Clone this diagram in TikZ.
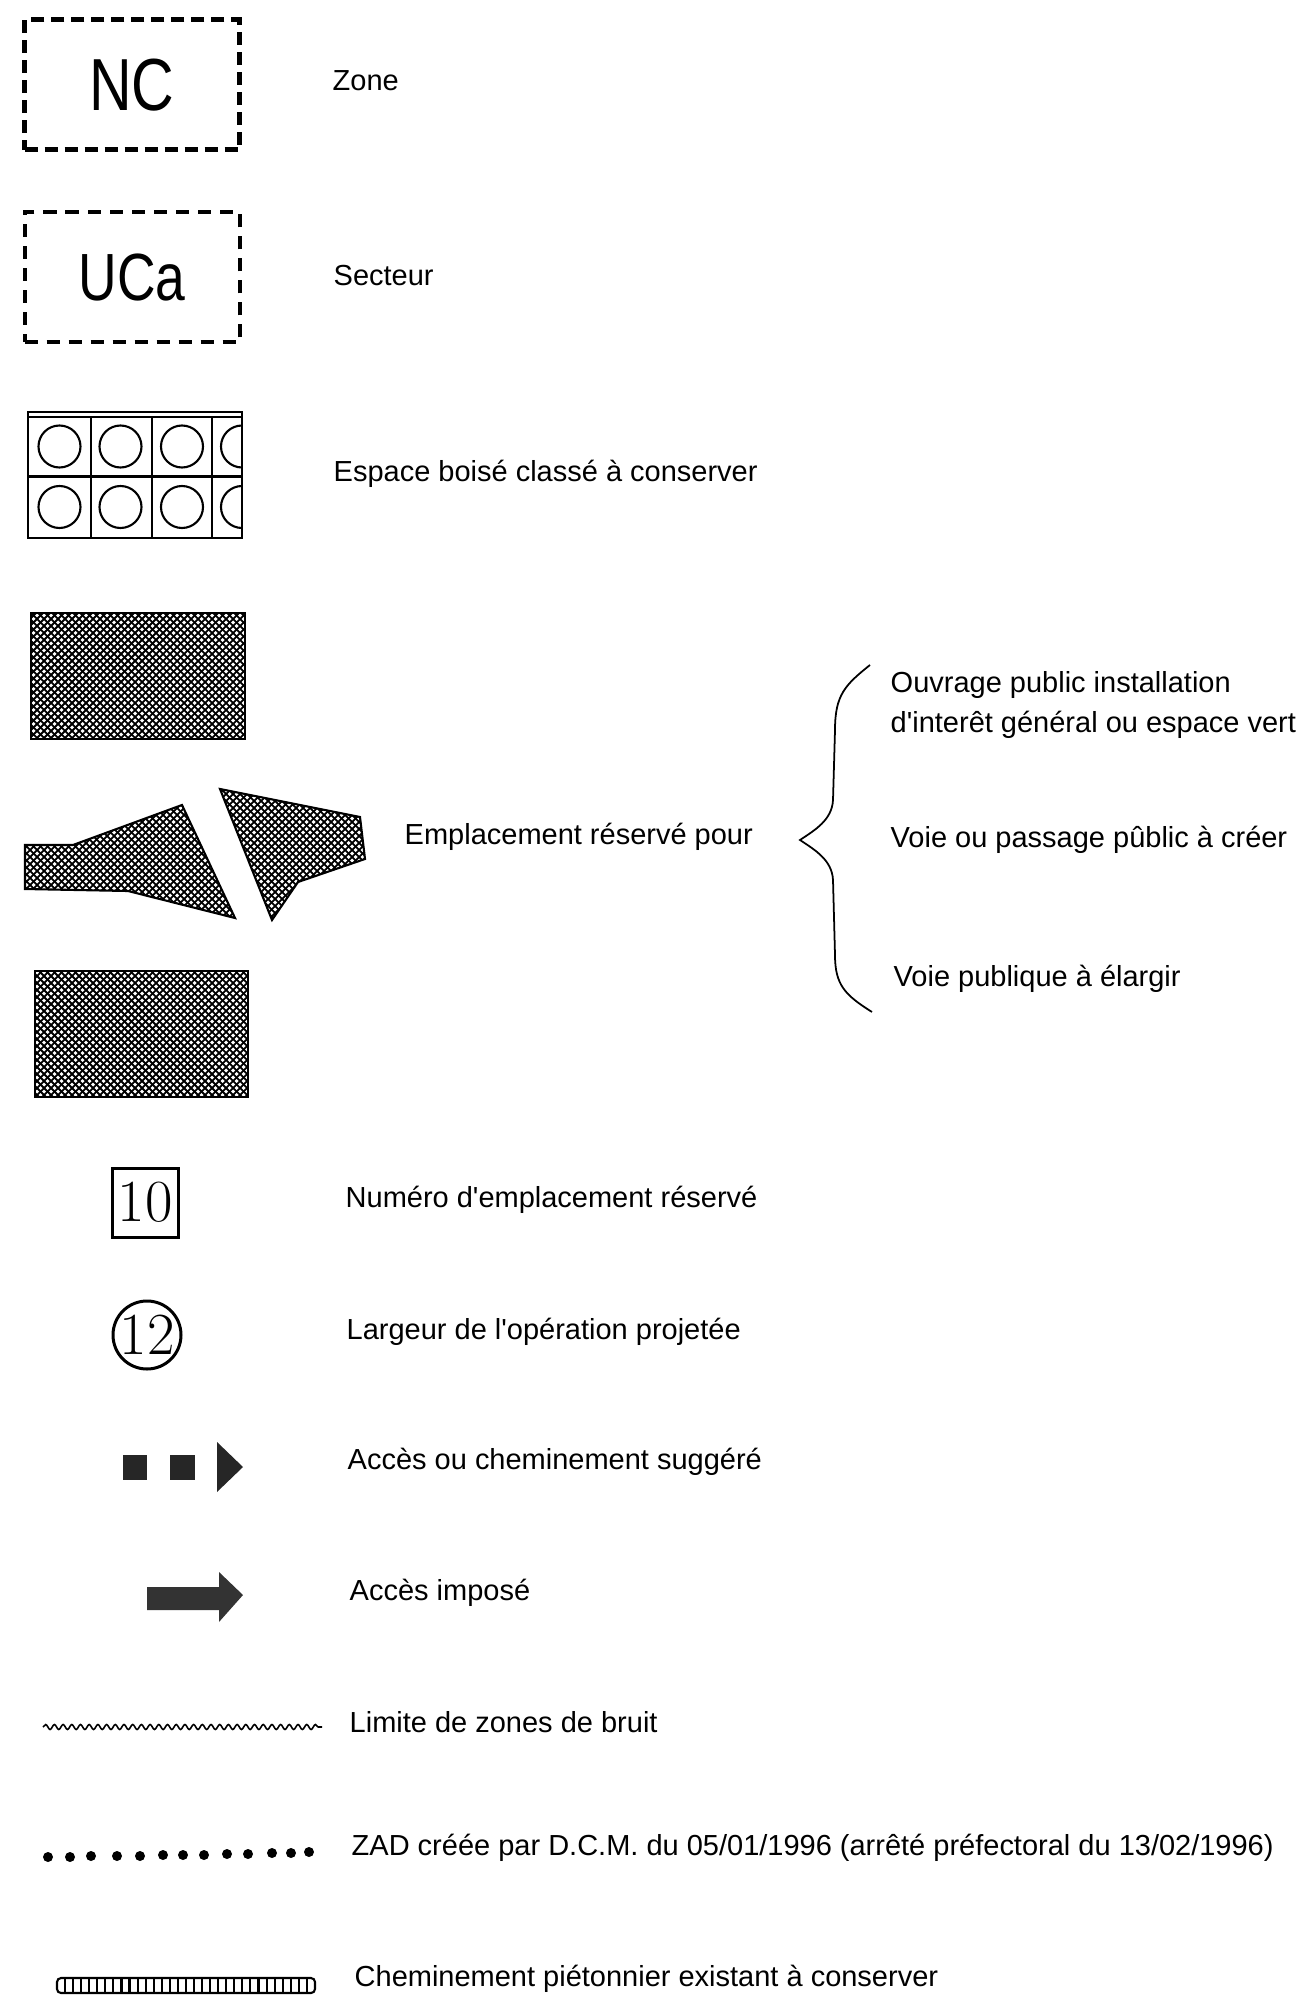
\documentclass[tikz,border=0pt]{standalone}
\usepackage{fontspec}
\newfontfamily\arial{Liberation Sans}
\newfontfamily\arialnarrow[FakeStretch=0.8]{Liberation Sans}
\usepackage{tikz}
\usetikzlibrary{decorations.pathmorphing}

\newcommand{\hatchshape}[1]{%
    \begin{scope}
        \clip #1;
        \foreach \k in {0,...,130} {
            \draw[line width=0.018cm] ({\k*0.07-5},-6) -- ({\k*0.07},-11);
            \draw[line width=0.018cm] ({\k*0.07},-6) -- ({\k*0.07-5},-11);
        }
    \end{scope}
    \draw[line width=0.6pt] #1;}

\begin{document}
\begin{tikzpicture}[x=1cm,y=1cm,
        legend/.style={anchor=west,inner sep=0pt,font=\arial\fontsize{8.25}{11.4}\selectfont},
        zonebox/.style={draw,minimum width=2.15cm,minimum height=1.3cm,inner sep=0pt},
        thinline/.style={line width=0.6pt},
        numfont/.style={inner sep=0pt,line width=0.03cm,font=\fontsize{17}{17}\selectfont}]
            \useasboundingbox (0,0) rectangle (13.04,-20.10);

            % zone et secteur
            \node[zonebox,line width=0.05cm,dash pattern=on 0.13cm off 0.07cm,
                font=\arialnarrow\fontsize{21}{21}\selectfont] (nc) at (1.32,-0.85) {NC};
            \node[zonebox,line width=0.04cm,dash pattern=on 0.13cm off 0.09cm,
                font=\arialnarrow\fontsize{19}{19}\selectfont] (uca) at (1.32,-2.775) {UCa};
            \node[legend] (zone) at (3.32,-0.81) {Zone};
            \node[legend] (secteur) at (3.33,-2.76) {Secteur};

            % espace boise
            \draw[thinline] (0.28,-4.12) rectangle (2.42,-5.38);
            \draw[thinline] (0.28,-4.17) -- (2.42,-4.17);
            \draw[thinline] (0.28,-4.765) -- (2.42,-4.765);
            \foreach \x in {0.91,1.52,2.12} {
                \draw[thinline] (\x,-4.17) -- (\x,-5.38);
            }
            \begin{scope}
                \clip (0.28,-4.12) rectangle (2.42,-5.38);
                \foreach \x in {0.595,1.205,1.82,2.42} {
                    \foreach \y in {-4.465,-5.07} {
                        \draw[thinline] (\x,\y) circle (0.21);
                    }
                }
            \end{scope}
            \node[legend] (ebc) at (3.33,-4.74) {Espace boisé classé à conserver};

            % emplacements reserves
            \hatchshape{(0.31,-6.13) rectangle (2.45,-7.39)}
            \hatchshape{(0.25,-8.45) -- (0.73,-8.45) -- (1.82,-8.05) -- (2.35,-9.18)
                -- (1.28,-8.91) -- (0.25,-8.89) -- cycle}
            \hatchshape{(2.20,-7.89) -- (3.60,-8.17) -- (3.65,-8.59) -- (2.98,-8.82)
                -- (2.72,-9.20) -- cycle}
            \hatchshape{(0.35,-9.71) rectangle (2.48,-10.97)}
            \node[legend] (emplacement) at (4.04,-8.37) {Emplacement réservé pour};

            \coordinate (tip) at (8.00,-8.40);
            \draw[line width=0.5pt] (8.70,-6.65) .. controls (8.45,-6.85) and (8.35,-6.95) .. (8.35,-7.30)
                -- (8.33,-8.00) .. controls (8.32,-8.20) and (8.15,-8.30) .. (tip)
                .. controls (8.15,-8.50) and (8.32,-8.60) .. (8.33,-8.80)
                -- (8.35,-9.55) .. controls (8.35,-9.85) and (8.45,-9.95) .. (8.72,-10.12);
            \node[legend,align=left] (ouvrage) at (8.90,-7.05)
                {Ouvrage public installation\\d\textquotesingle interêt général ou espace vert};
            \node[legend] (voiecreer) at (8.90,-8.40) {Voie ou passage pûblic à créer};
            \node[legend] (voieelargir) at (8.93,-9.79) {Voie publique à élargir};

            % numero et largeur
            \node[numfont,draw,rectangle,minimum width=0.66cm,minimum height=0.69cm] (num) at (1.45,-12.025) {10};
            \node[legend] (numlabel) at (3.45,-12.00) {Numéro d\textquotesingle emplacement réservé};
            \node[numfont,draw,circle,minimum size=0.68cm] (larg) at (1.47,-13.35) {12};
            \node[legend] (larglabel) at (3.46,-13.32) {Largeur de l\textquotesingle opération projetée};

            % acces
            \fill[black!85] (1.23,-14.55) rectangle (1.47,-14.80);
            \fill[black!85] (1.70,-14.55) rectangle (1.95,-14.80);
            \fill[black!85] (2.17,-14.42) -- (2.43,-14.67) -- (2.17,-14.92) -- cycle;
            \node[legend] (suggere) at (3.47,-14.62) {Accès ou cheminement suggéré};
            \fill[black!80] (1.47,-15.87) -- (2.19,-15.87) -- (2.19,-15.72) -- (2.43,-15.95)
                -- (2.19,-16.22) -- (2.19,-16.10) -- (1.47,-16.10) -- cycle;
            \node[legend] (impose) at (3.49,-15.93) {Accès imposé};

            % limites
            \draw[line width=0.45pt,decorate,decoration={snake,segment length=0.087cm,amplitude=0.025cm}]
                (0.43,-17.27) -- (3.22,-17.27);
            \node[legend] (bruit) at (3.49,-17.22) {Limite de zones de bruit};
            \foreach \x/\y in {0.48/-18.57,0.70/-18.57,0.91/-18.56,1.17/-18.56,1.40/-18.56,1.63/-18.55,
                    1.83/-18.55,2.04/-18.55,2.27/-18.54,2.48/-18.54,2.72/-18.53,2.91/-18.53,3.09/-18.52} {
                \fill (\x,\y) circle (0.05);
            }
            \node[legend] (zad) at (3.51,-18.48) {ZAD créée par D.C.M. du 05/01/1996 (arrêté préfectoral du 13/02/1996)};
            \draw[thinline,rounded corners=0.04cm] (0.57,-19.78) rectangle (3.15,-19.93);
            \foreach \i in {1,...,31} {
                \draw[thinline] ({0.57+\i*0.0806},-19.78) -- ++(0,-0.15);
            }
            \node[legend] (pieton) at (3.54,-19.79) {Cheminement piétonnier existant à conserver};
        \end{tikzpicture}
\end{document}
